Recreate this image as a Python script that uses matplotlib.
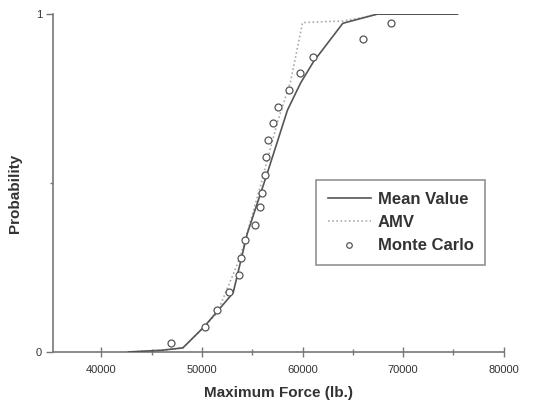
import matplotlib
matplotlib.use("Agg")
import matplotlib.pyplot as plt
from matplotlib.ticker import FixedLocator

plt.rcParams['font.family'] = ['Liberation Sans', 'DejaVu Sans']

# Cumulative probability curves for the maximum force
mean_value_force = [42700, 46000, 48100, 50200, 53100, 54500, 56500, 58500,
                    59800, 61100, 64000, 67400, 75400]
mean_value_prob = [0.0, 0.005, 0.012, 0.074, 0.175, 0.35, 0.53, 0.716,
                   0.796, 0.86, 0.973, 1.0, 1.0]

amv_force = [42700, 46000, 48100, 50200, 51500, 53800, 55800, 57500,
             58800, 60000, 64000, 66000, 67400]
amv_prob = [0.0, 0.005, 0.012, 0.074, 0.115, 0.28, 0.49, 0.68,
            0.80, 0.975, 0.98, 0.99, 1.0]

mc_force = [46950, 50330, 51520, 52710, 53700, 53900, 54270, 55260, 55790,
            55990, 56290, 56390, 56590, 57090, 57580, 58700, 59700, 61050,
            66000, 68800]
mc_prob = [0.027, 0.074, 0.124, 0.178, 0.228, 0.278, 0.331, 0.376, 0.43,
           0.47, 0.524, 0.577, 0.627, 0.678, 0.725, 0.775, 0.826, 0.873,
           0.926, 0.973]

x_ticks = [40000, 50000, 60000, 70000, 80000]
x_minor = [45000, 55000, 65000, 75000]
y_ticks = [0, 1]
y_minor = [0.5]

fig = plt.figure(figsize=(5.47, 4.05), dpi=100)
ax = fig.add_axes([0.097, 0.131, 0.824, 0.834])

txt = '#333333'
axis_grey = '#777777'

ax.plot(mean_value_force, mean_value_prob, color='#555555', lw=1.2,
        label='Mean Value', zorder=3)
ax.plot(amv_force, amv_prob, color='#aaaaaa', lw=1.2, ls=(0, (1, 1.5)),
        label='AMV', zorder=2)
ax.plot(mc_force, mc_prob, ls='none', marker='o', ms=5, mfc='white',
        mec='#555555', mew=0.9, label='Monte Carlo', zorder=4)

ax.set_xlim(35200, 80000)
ax.set_ylim(0, 1)

for side in ('top', 'right'):
    ax.spines[side].set_visible(False)
for side in ('left', 'bottom'):
    ax.spines[side].set_color(axis_grey)
    ax.spines[side].set_linewidth(1.2)

ax.xaxis.set_major_locator(FixedLocator(x_ticks))
ax.xaxis.set_minor_locator(FixedLocator(x_minor))
ax.yaxis.set_major_locator(FixedLocator(y_ticks))
ax.yaxis.set_minor_locator(FixedLocator(y_minor))
ax.set_xticklabels([str(v) for v in x_ticks])
ax.set_yticklabels([str(v) for v in y_ticks])

ax.tick_params(axis='x', which='major', direction='inout', length=7,
               width=1, colors=axis_grey, labelcolor=txt, labelsize=8, pad=6)
ax.tick_params(axis='x', which='minor', direction='inout', length=4,
               width=1, colors=axis_grey)
ax.tick_params(axis='y', which='major', direction='out', length=5,
               width=1, colors=axis_grey, labelcolor=txt, labelsize=8, pad=3)
ax.tick_params(axis='y', which='minor', direction='out', length=2,
               width=1, colors=axis_grey)

ax.set_xlabel('Maximum Force (lb.)', fontsize=11, fontweight='bold',
              color=txt, labelpad=8)
ax.set_ylabel('Probability', fontsize=11, fontweight='bold', color=txt)
ax.yaxis.set_label_coords(-0.07, 0.47)

leg = ax.legend(loc='upper left', bbox_to_anchor=(0.583, 0.509),
                frameon=True, fancybox=False, edgecolor=axis_grey,
                prop={'weight': 'bold', 'size': 12}, handlelength=2.6,
                handletextpad=0.4, borderpad=0.7, labelspacing=0.5,
                borderaxespad=0, markerscale=0.8)
leg.get_frame().set_linewidth(1.2)
for t in leg.get_texts():
    t.set_color(txt)

fig.savefig('out.png', dpi=100, facecolor='white')
